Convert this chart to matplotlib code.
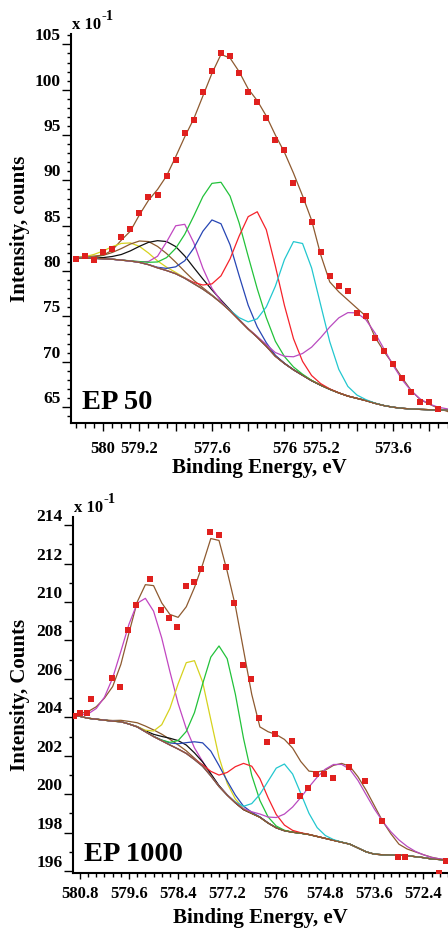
#!/usr/bin/env python3
"""
Cr 2p XPS peak fits for EP 50 and EP 1000 (two stacked panels).
"""

import numpy as np
import matplotlib
matplotlib.use('Agg')
import matplotlib.pyplot as plt
from matplotlib.ticker import FixedLocator, FixedFormatter, MultipleLocator

plt.rcParams['font.family'] = ['Liberation Serif', 'DejaVu Serif']

# ---------------- EP 50 ----------------
ep50_energy = [580.6, 580.4, 580.2, 580.0, 579.8, 579.6, 579.4, 579.2, 579.0, 578.8,
               578.6, 578.4, 578.2, 578.0, 577.8, 577.6, 577.4, 577.2, 577.0, 576.8,
               576.6, 576.4, 576.2, 576.0, 575.8, 575.6, 575.4, 575.2, 575.0, 574.8,
               574.6, 574.4, 574.2, 574.0, 573.8, 573.6, 573.4, 573.2, 573.0, 572.8,
               572.6, 572.4]
ep50_counts = [81.3, 81.7, 81.2, 82.1, 82.4, 83.8, 84.6, 86.4, 88.2, 88.4,
               90.5, 92.3, 95.2, 96.7, 99.7, 102.1, 104.1, 103.7, 101.9, 99.7,
               98.6, 96.9, 94.4, 93.4, 89.7, 87.8, 85.4, 82.1, 79.4, 78.3,
               77.8, 75.4, 75.0, 72.6, 71.2, 69.7, 68.2, 66.6, 65.6, 65.5,
               64.8]
ep50_envelope = [81.5, 81.6, 81.65, 81.75, 82.3, 83.4, 84.4, 86.2, 87.8, 89.0,
                 90.5, 92.6, 94.8, 96.8, 99.3, 101.8, 103.9, 103.5, 102.0, 100.1,
                 98.8, 97.1, 95.0, 93.1, 90.8, 88.3, 85.6, 81.8, 78.8, 77.7,
                 76.8, 75.9, 75.0, 72.7, 71.1, 69.7, 68.2, 66.8, 65.8, 65.3,
                 64.85, 64.5]
ep50_background = [81.4, 81.4, 81.4, 81.35, 81.3, 81.2, 81.1, 80.95, 80.7, 80.35,
                   80.05, 79.7, 79.2, 78.6, 78.0, 77.3, 76.5, 75.6, 74.6, 73.6,
                   72.7, 71.7, 70.6, 69.8, 69.1, 68.5, 67.9, 67.4, 66.95, 66.55,
                   66.2, 65.95, 65.7, 65.4, 65.15, 64.97, 64.85, 64.78, 64.73, 64.7,
                   64.67, 64.65]
# fitted components: position (eV), height above background, FWHM (eV)
ep50_peak_pos = [579.42, 579.0, 578.6, 578.24, 577.46, 577.38, 576.58, 575.67, 574.44]
ep50_peak_height = [2.0, 2.55, 3.2, 6.0, 8.8, 13.3, 13.85, 14.7, 9.45]
ep50_peak_fwhm = [1.05, 1.2, 1.3, 0.75, 1.0, 1.36, 1.1, 1.1, 1.65]
ep50_peak_colors = ['#d6d21e', '#8c5a2c', '#111111', '#c146c1', '#2746b4',
                    '#22c23a', '#f5222a', '#22c7cf', '#b94bc0']
ep50_yticks = [65, 70, 75, 80, 85, 90, 95, 100, 105]
ep50_xticks = [580.0, 579.2, 578.4, 577.6, 576.8, 576.0, 575.2, 574.4, 573.6, 572.8]
ep50_xticklabels = ['580', '579.2', '', '577.6', '', '576', '575.2', '', '573.6', '']

# ---------------- EP 1000 ----------------
ep1000_energy = [581.0, 580.8, 580.6, 580.4, 580.2, 580.0, 579.8, 579.6, 579.4, 579.2,
                 579.0, 578.8, 578.6, 578.4, 578.2, 578.0, 577.8, 577.6, 577.4, 577.2,
                 577.0, 576.8, 576.6, 576.4, 576.2, 576.0, 575.8, 575.6, 575.4, 575.2,
                 575.0, 574.8, 574.6, 574.4, 574.2, 574.0, 573.8, 573.6, 573.4, 573.2,
                 573.0, 572.8, 572.6, 572.4, 572.2, 572.0, 571.8]
ep1000_envelope = [204.1, 204.2, 204.3, 204.55, 205.0, 205.6, 206.75, 208.4, 210.0, 210.9,
                   210.85, 209.95, 209.35, 209.2, 209.75, 210.75, 211.95, 213.3, 213.2, 211.6,
                   209.8, 207.5, 205.2, 203.5, 203.25, 203.1, 202.85, 202.4, 201.7, 201.2,
                   201.15, 201.25, 201.5, 201.6, 201.45, 200.9, 200.2, 199.4, 198.6, 197.95,
                   197.4, 197.15, 197.0, 196.85, 196.72, 196.63, 196.57]
ep1000_background = [204.1, 204.05, 203.95, 203.9, 203.85, 203.8, 203.77, 203.65, 203.5, 203.25,
                     203.0, 202.78, 202.56, 202.35, 202.12, 201.8, 201.45, 200.95, 200.4, 199.95,
                     199.55, 199.2, 199.0, 198.8, 198.5, 198.25, 198.1, 198.02, 197.97, 197.9,
                     197.8, 197.7, 197.6, 197.5, 197.4, 197.2, 197.0, 196.88, 196.85, 196.84,
                     196.83, 196.8, 196.75, 196.7, 196.63, 196.6, 196.57]
ep1000_data_energy = [580.95, 580.81, 580.63, 580.54, 580.02, 579.82, 579.62, 579.43, 579.08, 578.82,
                      578.62, 578.42, 578.21, 578.02, 577.83, 577.62, 577.41, 577.22, 577.03, 576.82,
                      576.62, 576.43, 576.23, 576.03, 575.62, 575.43, 575.23, 575.02, 574.83, 574.62,
                      574.22, 573.82, 573.42, 573.03, 572.84, 572.03, 571.84]
ep1000_counts = [204.06, 204.2, 204.2, 204.93, 206.04, 205.59, 208.54, 209.86, 211.18, 209.58,
                 209.16, 208.68, 210.84, 211.05, 211.7, 213.62, 213.5, 211.82, 209.97, 206.73,
                 206.0, 203.96, 202.72, 203.12, 202.75, 199.88, 200.33, 201.05, 201.04, 200.85,
                 201.43, 200.69, 198.59, 196.71, 196.71, 195.92, 196.52]
ep1000_peak_pos = [579.19, 578.9, 578.3, 578.03, 577.65, 577.33, 576.68, 575.81, 574.42]
ep1000_peak_height = [6.94, 0.35, 0.45, 5.16, 1.3, 7.4, 2.5, 3.47, 4.05]
ep1000_peak_fwhm = [1.27, 1.2, 1.0, 0.95, 1.0, 1.06, 1.0, 0.95, 1.85]
ep1000_peak_colors = ['#c146c1', '#8c5a2c', '#111111', '#d6d21e', '#2746b4',
                      '#22c23a', '#f5222a', '#22c7cf', '#b94bc0']
ep1000_yticks = [196, 198, 200, 202, 204, 206, 208, 210, 212, 214]
ep1000_xticks = [580.8, 579.6, 578.4, 577.2, 576.0, 574.8, 573.6, 572.4]
ep1000_xticklabels = ['580.8', '579.6', '578.4', '577.2', '576', '574.8', '573.6', '572.4']

ENV_COLOR = '#8e5a30'
DOT_COLOR = '#e0201e'
W, H = 448, 930


def draw_panel(ax, energy, background, envelope, data_x, data_y,
               pos, height, fwhm, colors, tag, ylabel):
    e = np.asarray(energy)
    bg = np.asarray(background)

    # 包络线
    ax.plot(e, envelope, color=ENV_COLOR, lw=0.9, zorder=2)
    # 各拟合分量 (叠加在本底上)
    for c, h, f, col in zip(pos, height, fwhm, colors):
        comp = bg + h * np.exp(-4 * np.log(2) * (e - c) ** 2 / f ** 2)
        ax.plot(e, comp, color=col, lw=0.9, zorder=3)
    # 本底
    ax.plot(e, bg, color=ENV_COLOR, lw=0.9, zorder=4)
    # 实测点
    ax.plot(data_x, data_y, 's', color=DOT_COLOR, ms=4.6, mew=0, zorder=5)

    ax.spines['top'].set_visible(False)
    ax.spines['right'].set_visible(False)
    ax.spines['left'].set_linewidth(1.5)
    ax.spines['bottom'].set_linewidth(1.5)

    ax.text(0.03, 0.035, tag, transform=ax.transAxes, fontsize=20.5,
            fontweight='bold', ha='left', va='baseline')
    ax.annotate('x 10', xy=(0, 1), xycoords='axes fraction', xytext=(1, 1),
                textcoords='offset points', fontsize=12, fontweight='bold',
                ha='left', va='bottom')
    ax.annotate('-1', xy=(0, 1), xycoords='axes fraction', xytext=(22, 8),
                textcoords='offset points', fontsize=10.5, fontweight='bold',
                ha='left', va='bottom')

    ax.set_xlabel('Binding Energy, eV', fontsize=15, fontweight='bold',
                  va='center')
    ax.set_ylabel(ylabel, fontsize=15, fontweight='bold', va='center')


def main():
    fig = plt.figure(figsize=(W / 100, H / 100), dpi=100)

    # 上图 EP 50
    ax1 = fig.add_axes([71 / W, 1 - 423 / H, 1 - 71 / W, (423 - 34) / H])
    draw_panel(ax1, ep50_energy, ep50_background, ep50_envelope,
               ep50_energy[:len(ep50_counts)], ep50_counts,
               ep50_peak_pos, ep50_peak_height, ep50_peak_fwhm, ep50_peak_colors,
               'EP 50', 'Intensity, counts')
    ax1.set_xlim(580.71, 572.39)
    ax1.set_ylim(63.23, 106.15)
    ax1.xaxis.set_major_locator(FixedLocator(ep50_xticks))
    ax1.xaxis.set_major_formatter(FixedFormatter(ep50_xticklabels))
    ax1.xaxis.set_minor_locator(MultipleLocator(0.2))
    ax1.set_yticks(ep50_yticks)
    ax1.yaxis.set_minor_locator(MultipleLocator(1))
    ax1.tick_params(axis='x', which='major', length=6, width=1, pad=7, labelsize=12)
    ax1.tick_params(axis='x', which='minor', length=3.5, width=1)
    ax1.xaxis.set_label_coords(0.5, -45 / 389)
    ax1.yaxis.set_label_coords(-51 / 377, 0.5)

    # 下图 EP 1000
    ax2 = fig.add_axes([73 / W, 1 - 873 / H, 1 - 73 / W, (873 - 517) / H])
    draw_panel(ax2, ep1000_energy, ep1000_background, ep1000_envelope,
               ep1000_data_energy, ep1000_counts,
               ep1000_peak_pos, ep1000_peak_height, ep1000_peak_fwhm, ep1000_peak_colors,
               'EP 1000', 'Intensity, Counts')
    ax2.set_xlim(580.97, 571.8)
    ax2.set_ylim(195.9, 214.42)
    ax2.set_xticks(ep1000_xticks)
    ax2.set_xticklabels(ep1000_xticklabels)
    ax2.xaxis.set_minor_locator(MultipleLocator(0.2))
    ax2.set_yticks(ep1000_yticks)
    ax2.yaxis.set_minor_locator(MultipleLocator(1))
    ax2.tick_params(axis='x', which='major', length=4, width=1, pad=5, labelsize=12)
    ax2.tick_params(axis='x', which='minor', length=3, width=1)
    ax2.xaxis.set_label_coords(0.5, -45 / 356)
    ax2.yaxis.set_label_coords(-53 / 375, 0.5)

    for ax in (ax1, ax2):
        ax.tick_params(axis='y', which='major', length=6.5, width=1, pad=1, labelsize=12.5)
        ax.tick_params(axis='y', which='minor', length=3, width=1)
        for lbl in ax.get_yticklabels() + ax.get_xticklabels():
            lbl.set_fontweight('bold')
        for lbl in ax.get_yticklabels():
            lbl.set_va('bottom')

    fig.savefig('out.png', dpi=100)
    plt.close(fig)


if __name__ == "__main__":
    main()
